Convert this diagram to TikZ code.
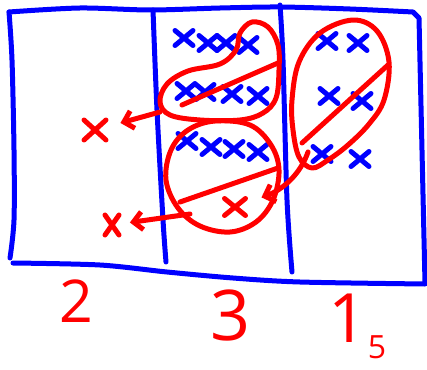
\documentclass[tikz,border=0pt]{standalone}
\usepackage{tikz}
\usepackage{fontspec}
\newfontfamily\handfont{Open Sans}
\usetikzlibrary{arrows.meta, shapes.misc}
\definecolor{inkblue}{RGB}{0,0,255}
\definecolor{inkred}{RGB}{255,0,0}
\tikzset{
  bluepen/.style  = {draw=inkblue, line width=5pt, line cap=round,
                     line join=round},
  redpen/.style   = {draw=inkred, line width=5pt, line cap=round,
                     line join=round},
  bluex/.style    = {cross out, draw=inkblue, line width=5pt, line cap=round,
                     minimum width=18pt, minimum height=15pt,
                     inner sep=0pt, outer sep=0pt},
  redx/.style     = {cross out, draw=inkred, line width=5pt, line cap=round,
                     inner sep=0pt, outer sep=0pt},
  redarrow/.style = {redpen, -{Straight Barb[length=9pt,width=18pt]}},
  digit/.style    = {text=inkred, inner xsep=-3pt, inner ysep=0pt, anchor=base,
                     text depth=0pt, font=\handfont\fontsize{59}{59}\selectfont}
}

\begin{document}
\begin{tikzpicture}[x=1pt, y=-1pt]
  \useasboundingbox (0,0) rectangle (427,369);

  % frame and column walls
  \draw[bluepen] plot[smooth] coordinates {(10,258) (14,220) (14,150) (12,60) (9,12)};
  \draw[bluepen] plot[smooth] coordinates {(9,12) (80,8) (150,10) (220,8) (280,7)
                                          (350,9) (413,12)}
                 -- (419,18) -- (425,283);
  \draw[bluepen] plot[smooth] coordinates {(13,263) (100,265) (167,272) (233,278)
                                          (300,282) (425,284)};
  \draw[bluepen] plot[smooth] coordinates {(153,10) (157,110) (163,220) (166,262)};
  \draw[bluepen] plot[smooth] coordinates {(280,5) (283,60) (287,200) (292,272)};

  % blue crosses, middle column
  \node[bluex] (m11) at (184,38) {};
  \node[bluex] (m12) at (208,43) {};
  \node[bluex] (m13) at (226,43) {};
  \node[bluex] (m14) at (248,45) {};
  \node[bluex] (m21) at (186,91) {};
  \node[bluex] (m22) at (205,92) {};
  \node[bluex] (m23) at (232,94) {};
  \node[bluex] (m24) at (258,96) {};
  \node[bluex] (m31) at (187,141) {};
  \node[bluex] (m32) at (211,147) {};
  \node[bluex] (m33) at (234,149) {};
  \node[bluex] (m34) at (258,152) {};

  % blue crosses, right column
  \node[bluex] (s11) at (327,41) {};
  \node[bluex] (s12) at (358,43) {};
  \node[bluex] (s21) at (329,96) {};
  \node[bluex] (s22) at (362,101) {};
  \node[bluex] (s31) at (322,154) {};
  \node[bluex] (s32) at (360,159) {};

  % red crosses
  \node[redx, minimum width=22pt, minimum height=20pt] (r1) at (95,130) {};
  \node[redx, minimum width=14pt, minimum height=20pt] (r2) at (112,225) {};
  \node[redx, minimum width=21pt, minimum height=17pt] (r3) at (235,207) {};

  % loops
  \draw[redpen] plot[smooth cycle, tension=0.6] coordinates {(252,22) (268,27) (278,45)
        (279,70) (276,98) (263,113) (240,120) (200,120) (170,115) (160,102)
        (167,84) (188,71) (220,64) (236,50) (240,33)};
  \draw[redpen] (182,105) -- (278,63);
  \draw[redpen] plot[smooth cycle, tension=0.6] coordinates {(215,121) (250,125) (271,145)
        (279,170) (273,200) (256,222) (230,232) (200,226) (178,208) (166,180)
        (171,150) (188,130)};
  \draw[redpen] (180,202) -- (278,168);
  \draw[redpen] plot[smooth cycle, tension=0.6] coordinates {(353,20) (377,31) (389,62)
        (384,100) (369,124) (348,145) (328,160) (312,168) (299,157) (293,130)
        (292,100) (299,62) (320,33)};
  \draw[redpen] (302,143) -- (388,65);

  \coordinate (fromA) at (160,112);
  \coordinate (fromB) at (190,214);
  \coordinate (fromC) at (308,152);
  \draw[redarrow, shorten >=15pt] (fromA) -- (r1);
  \draw[redarrow, shorten >=11pt] (fromB) -- (r2);
  \draw[redarrow, shorten >=17pt] (fromC) .. controls (300,175) and (282,190) .. (r3);

  % column labels
  \node[digit] (ltwo) at (76,322) {2};
  \node[digit, font=\handfont\fontsize{70}{70}\selectfont] (lthree) at (231,340) {3};
  \node[digit, font=\handfont\fontsize{68}{68}\selectfont] (lone) at (348,342) {1};
  \node[digit, font=\handfont\fontsize{32}{32}\selectfont] (lfive) at (377,358) {5};
\end{tikzpicture}
\end{document}
